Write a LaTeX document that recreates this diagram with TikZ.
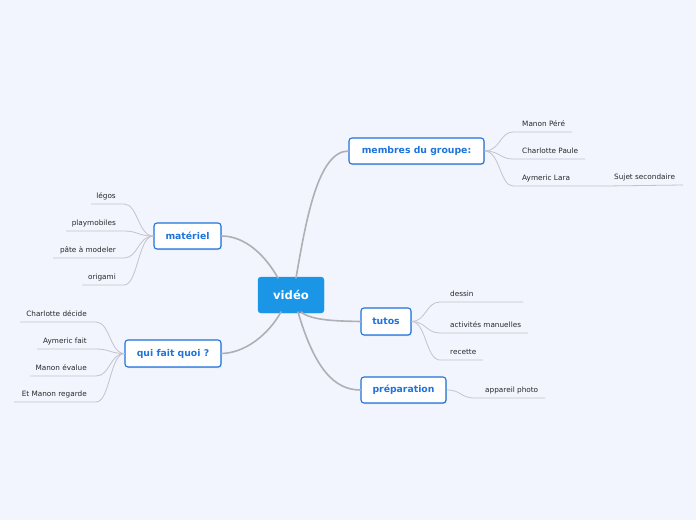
\documentclass[tikz,border=0pt]{standalone}
\usepackage{fontspec}
\setmainfont{DejaVu Sans}
\usetikzlibrary{shadows}
\definecolor{bg}{RGB}{242,245,253}
\definecolor{cblue}{RGB}{27,150,230}
\definecolor{tblue}{RGB}{30,115,220}
\definecolor{mainline}{RGB}{175,175,180}
\definecolor{subline}{RGB}{195,195,205}
\definecolor{subtext}{RGB}{40,40,40}
\tikzset{
  central/.style={draw=cblue, fill=cblue, rounded corners=3pt, text=white, font=\fontsize{11.6}{13}\selectfont\bfseries, inner sep=0pt},
  topic/.style={draw=tblue, line width=1.1pt, fill=white, rounded corners=3pt, text=tblue, font=\fontsize{9.3}{11}\selectfont\bfseries, inner sep=0pt, drop shadow={shadow xshift=0.8pt, shadow yshift=-1pt, opacity=0.25}},
  sub/.style={text=subtext, font=\fontsize{7.3}{8}\selectfont, inner sep=0pt},
  mainconn/.style={draw=mainline, line width=1.6pt, line cap=round},
  subconn/.style={draw=subline, line width=0.8pt}
}
\begin{document}
\begin{tikzpicture}[x=1pt,y=-1pt]
\fill[bg] (0,0) rectangle (696,520);
\useasboundingbox (0,0) rectangle (696,520);

\coordinate (c1) at (296,278);
\coordinate (c2) at (278,278);
\coordinate (c3) at (281,312);
\coordinate (c4) at (301,312);
\coordinate (c5) at (298,312);

\node[central, minimum width=66pt, minimum height=36pt] (vid) at (291,295) {vidéo};
\node[topic, minimum width=135pt, minimum height=26pt] (mem) at (416.5,151) {membres du groupe:};
\node[topic, minimum width=67pt, minimum height=26pt] (mat) at (187.5,236) {matériel};
\node[topic, minimum width=96pt, minimum height=27pt] (qui) at (173,353.5) {qui fait quoi ?};
\node[topic, minimum width=50pt, minimum height=27pt] (tut) at (386,321.5) {tutos};
\node[topic, minimum width=85pt, minimum height=26pt] (pre) at (403.5,390) {préparation};

\draw[mainconn] (c1) .. controls (306,220) and (318,151) .. (mem.west);
\draw[mainconn] (c2) .. controls (265,255) and (245,236) .. (mat.east);
\draw[mainconn] (c3) .. controls (268,335) and (245,353) .. (qui.east);
\draw[mainconn] (c4) .. controls (312,321) and (340,321) .. (tut.west);
\draw[mainconn] (c5) .. controls (315,370) and (335,390) .. (pre.west);

% membres du groupe
\coordinate (m1a) at (513,132); \coordinate (m1b) at (572,132);
\coordinate (m2a) at (513,159); \coordinate (m2b) at (585,159);
\coordinate (m3a) at (513,186); \coordinate (m3b) at (605,186);
\coordinate (m4b) at (683,185);
\node[sub, anchor=base west] (t1) at (522,126.5) {Manon Péré};
\node[sub, anchor=base west] (t2) at (522,153) {Charlotte Paule};
\node[sub, anchor=base west] (t3) at (522,180.5) {Aymeric Lara};
\node[sub, anchor=base west] (t4) at (614,179.5) {Sujet secondaire};
\draw[subconn] (mem.east) .. controls (500,151) and (500,132) .. (m1a) -- (m1b);
\draw[subconn] (mem.east) .. controls (500,151) and (500,159) .. (m2a) -- (m2b);
\draw[subconn] (mem.east) .. controls (500,151) and (500,186) .. (m3a) -- (m3b);
\draw[subconn] (m3b) -- (m4b);

% matériel
\coordinate (l1a) at (124,204); \coordinate (l1b) at (91,204);
\coordinate (l2a) at (124,231); \coordinate (l2b) at (66,231);
\coordinate (l3a) at (124,258); \coordinate (l3b) at (53,258);
\coordinate (l4a) at (124,285); \coordinate (l4b) at (82,285);
\node[sub, anchor=base east] (s1) at (116,198.5) {légos};
\node[sub, anchor=base east] (s2) at (116,225) {playmobiles};
\node[sub, anchor=base east] (s3) at (116,252) {pâte à modeler};
\node[sub, anchor=base east] (s4) at (116,279) {origami};
\draw[subconn] (mat.west) .. controls (138,236) and (138,204) .. (l1a) -- (l1b);
\draw[subconn] (mat.west) .. controls (138,236) and (138,231) .. (l2a) -- (l2b);
\draw[subconn] (mat.west) .. controls (138,236) and (138,258) .. (l3a) -- (l3b);
\draw[subconn] (mat.west) .. controls (138,236) and (138,285) .. (l4a) -- (l4b);

% qui fait quoi
\coordinate (q1a) at (96,322); \coordinate (q1b) at (20,322);
\coordinate (q2a) at (96,349); \coordinate (q2b) at (37,349);
\coordinate (q3a) at (96,376); \coordinate (q3b) at (30,376);
\coordinate (q4a) at (96,402); \coordinate (q4b) at (14,402);
\node[sub, anchor=base east] (u1) at (87,316.5) {Charlotte décide};
\node[sub, anchor=base east] (u2) at (87,343) {Aymeric fait};
\node[sub, anchor=base east] (u3) at (87,370) {Manon évalue};
\node[sub, anchor=base east] (u4) at (87,396.5) {Et Manon regarde};
\draw[subconn] (qui.west) .. controls (110,353.5) and (110,322) .. (q1a) -- (q1b);
\draw[subconn] (qui.west) .. controls (110,353.5) and (110,349) .. (q2a) -- (q2b);
\draw[subconn] (qui.west) .. controls (110,353.5) and (110,376) .. (q3a) -- (q3b);
\draw[subconn] (qui.west) .. controls (110,353.5) and (110,402) .. (q4a) -- (q4b);

% tutos
\coordinate (d1a) at (440,302); \coordinate (d1b) at (523,302);
\coordinate (d2a) at (440,333); \coordinate (d2b) at (528,333);
\coordinate (d3a) at (440,360); \coordinate (d3b) at (483,360);
\node[sub, anchor=base west] (v1) at (450,296.5) {dessin};
\node[sub, anchor=base west] (v2) at (450,327.5) {activités manuelles};
\node[sub, anchor=base west] (v3) at (450,354.5) {recette};
\draw[subconn] (tut.east) .. controls (426,321.5) and (426,302) .. (d1a) -- (d1b);
\draw[subconn] (tut.east) .. controls (426,321.5) and (426,333) .. (d2a) -- (d2b);
\draw[subconn] (tut.east) .. controls (426,321.5) and (426,360) .. (d3a) -- (d3b);

% préparation
\coordinate (p1a) at (475,398); \coordinate (p1b) at (545,398);
\node[sub, anchor=base west] (w1) at (485,392.5) {appareil photo};
\draw[subconn] (pre.east) .. controls (462,390) and (460,398) .. (p1a) -- (p1b);
\end{tikzpicture}
\end{document}
